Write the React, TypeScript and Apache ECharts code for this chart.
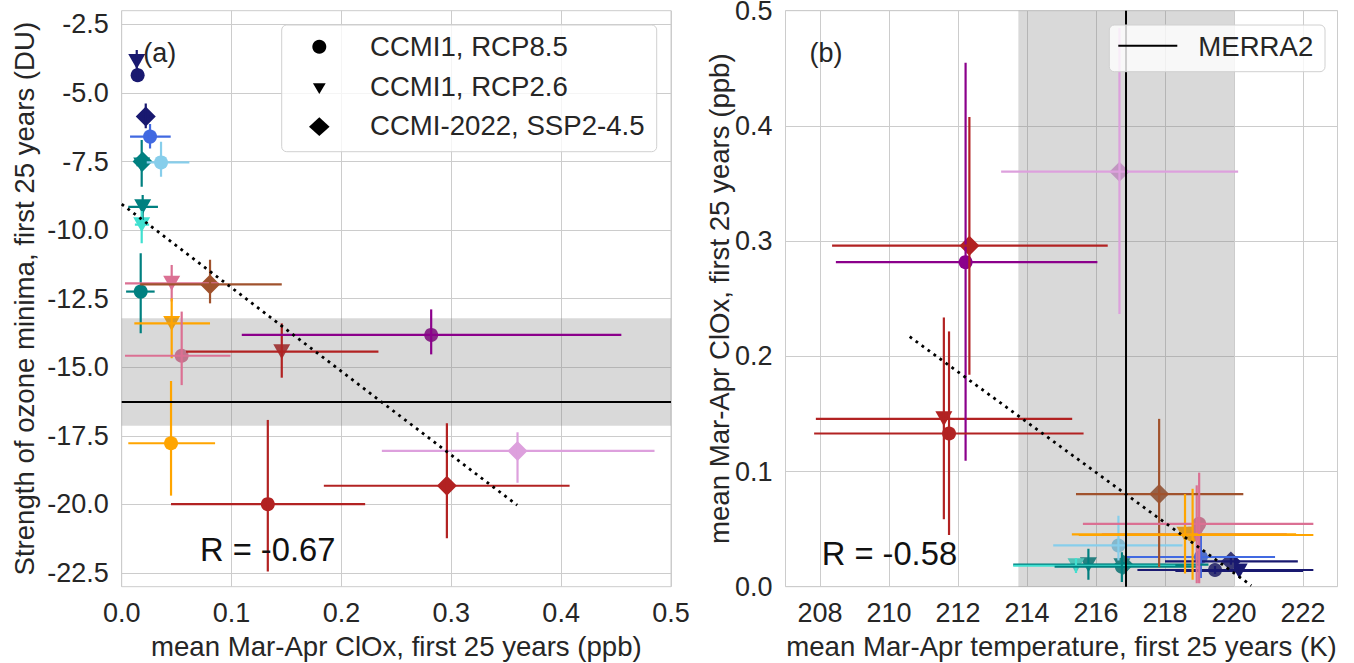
import React, { useEffect, useRef } from 'react';
import * as echarts from 'echarts';

// ---------- data ----------
const colors = ['#191970', '#191970', '#191970', '#4169E1', '#87CEEB', '#008080', '#008080', '#008080', '#40E0D0', '#008080',
  '#DB7093', '#A0522D', '#FFA500', '#DB7093', '#B22222', '#8B008B', '#FFA500', '#B22222', '#DDA0DD', '#B22222'];
const markers = ['circle', 'triangle', 'diamond', 'circle', 'circle', 'triangle', 'diamond', 'triangle', 'triangle', 'circle',
  'triangle', 'diamond', 'triangle', 'circle', 'triangle', 'circle', 'circle', 'circle', 'diamond', 'diamond'];

// mean Mar-Apr ClOx (ppb)
const clox = [0.0145, 0.0137, 0.0219, 0.0258, 0.0358, 0.0182, 0.019, 0.0191, 0.0182, 0.0173,
  0.0455, 0.0804, 0.0455, 0.0546, 0.1457, 0.2817, 0.0449, 0.133, 0.3603, 0.296];
const cloxLo = [0.011, 0.011, 0.019, 0.0076, 0.0228, 0.0135, 0.0165, 0.006, 0.012, 0.004,
  0.003, 0.0168, 0.0115, 0.003, 0.0586, 0.1093, 0.006, 0.0449, 0.2368, 0.184];
const cloxHi = [0.018, 0.017, 0.025, 0.0446, 0.0616, 0.023, 0.0215, 0.033, 0.025, 0.030,
  0.088, 0.1457, 0.0804, 0.099, 0.2337, 0.4548, 0.085, 0.2216, 0.485, 0.4077];

// strength of ozone minima (DU)
const ozone = [-4.35, -3.85, -5.86, -6.59, -7.53, -7.63, -7.5, -9.15, -9.8, -12.24,
  -11.94, -11.98, -13.4, -14.58, -14.43, -13.82, -17.77, -19.99, -18.05, -19.32];
const ozoneLo = [-4.6, -4.2, -6.29, -7.02, -8.05, -8.42, -7.8, -9.63, -10.48, -13.76,
  -12.6, -12.67, -14.67, -15.65, -15.38, -14.53, -19.68, -22.45, -19.21, -21.23];
const ozoneHi = [-4.1, -3.43, -5.38, -6.13, -6.78, -6.71, -7.2, -8.72, -9.3, -10.84,
  -11.27, -11.08, -12.49, -12.97, -13.4, -12.89, -15.5, -16.92, -17.37, -17.04];

// mean Mar-Apr temperature (K)
const temp = [219.45, 220.15, 219.91, 219.04, 216.65, 216.75, 216.8, 215.78, 215.42, 216.75,
  218.92, 217.83, 218.58, 218.99, 211.59, 212.22, 218.8, 211.74, 216.68, 212.33];
const tempLo = [217.2, 218.3, 218.0, 216.89, 214.76, 214.9, 215.6, 213.6, 213.6, 214.8,
  216.17, 215.42, 215.3, 215.62, 207.88, 208.46, 215.5, 207.83, 213.25, 208.35];
const tempHi = [222.3, 222.0, 221.85, 221.19, 218.51, 218.6, 218.0, 219.26, 218.3, 218.9,
  221.53, 220.27, 221.8, 222.3, 215.31, 216.04, 222.3, 215.64, 220.12, 216.34];

// reference (MERRA2) values and ranges
const merraOzone = -16.27;
const merraOzoneRange = [-17.13, -13.21];
const merraTemp = 216.87;
const merraTempRange = [213.75, 220.0];

// regression lines (end points)
const fitA = [[0.0, -9.05], [0.36, -20.03]];
const fitB = [[210.6, 0.217], [220.5, 0.001]];

const yTicksA = [-22.5, -20, -17.5, -15, -12.5, -10, -7.5, -5, -2.5];
const xTicksB = [208, 210, 212, 214, 216, 218, 220, 222];
const legendLabelsA = ['CCMI1, RCP8.5', 'CCMI1, RCP2.6', 'CCMI-2022, SSP2-4.5'];
const legendLabelB = 'MERRA2';
const corrA = 'R = -0.67';
const corrB = 'R = -0.58';

// ---------- styling ----------
const FONT = 'Liberation Sans, Arial, Helvetica, sans-serif';
const TXT = '#262626';
const GRIDC = '#cccccc';
const FS = 27;
const FS_NAME = 27.6;

const symbolOf: Record<string, any> = {
  circle: { symbol: 'circle', symbolSize: 14, symbolRotate: 0 },
  triangle: { symbol: 'triangle', symbolSize: [17, 15], symbolRotate: 180 },
  diamond: { symbol: 'diamond', symbolSize: [20, 20], symbolRotate: 0 },
};

function errRender(params: any, api: any) {
  const x = api.value(0), xl = api.value(1), xh = api.value(2);
  const y = api.value(3), yl = api.value(4), yh = api.value(5);
  const pL = api.coord([xl, y]);
  const pR = api.coord([xh, y]);
  const pB = api.coord([x, yl]);
  const pT = api.coord([x, yh]);
  const c = colors[params.dataIndex];
  return {
    type: 'group',
    children: [
      { type: 'line', shape: { x1: pL[0], y1: pL[1], x2: pR[0], y2: pR[1] }, style: { stroke: c, lineWidth: 2.2 } },
      { type: 'line', shape: { x1: pB[0], y1: pB[1], x2: pT[0], y2: pT[1] }, style: { stroke: c, lineWidth: 2.2 } },
    ],
  };
}

function buildOption() {
  const series: any[] = [];
  const kinds = ['circle', 'triangle', 'diamond'];
  // markers (below shading)
  kinds.forEach((k) => {
    const idx = markers.map((m, i) => (m === k ? i : -1)).filter((i) => i >= 0);
    series.push({
      type: 'scatter', xAxisIndex: 0, yAxisIndex: 0, z: 2, silent: true,
      ...symbolOf[k],
      itemStyle: { opacity: 1 },
      data: idx.map((i) => ({ value: [clox[i], ozone[i]], itemStyle: { color: colors[i], opacity: 1 } })),
    });
    series.push({
      type: 'scatter', xAxisIndex: 1, yAxisIndex: 1, z: 2, silent: true,
      ...symbolOf[k],
      itemStyle: { opacity: 1 },
      data: idx.map((i) => ({ value: [temp[i], clox[i]], itemStyle: { color: colors[i], opacity: 1 } })),
    });
  });
  // shading
  series.push({
    type: 'custom', xAxisIndex: 0, yAxisIndex: 0, z: 3, silent: true,
    dimensions: ['x', 'lo', 'hi'], encode: { x: 0, y: [1, 2] },
    data: [[0, merraOzoneRange[0], merraOzoneRange[1]]],
    renderItem: (params: any, api: any) => {
      const cs = params.coordSys;
      const pTop = api.coord([0, api.value(2)]);
      const pBot = api.coord([0, api.value(1)]);
      return { type: 'rect', shape: { x: cs.x, y: pTop[1], width: cs.width, height: pBot[1] - pTop[1] }, style: { fill: 'rgba(128,128,128,0.3)' } };
    },
  });
  series.push({
    type: 'custom', xAxisIndex: 1, yAxisIndex: 1, z: 3, silent: true,
    dimensions: ['lo', 'hi', 'y'], encode: { x: [0, 1], y: 2 },
    data: [[merraTempRange[0], merraTempRange[1], 0]],
    renderItem: (params: any, api: any) => {
      const cs = params.coordSys;
      const pL = api.coord([api.value(0), 0]);
      const pR = api.coord([api.value(1), 0]);
      return { type: 'rect', shape: { x: pL[0], y: cs.y, width: pR[0] - pL[0], height: cs.height }, style: { fill: 'rgba(128,128,128,0.3)' } };
    },
  });
  // error bars
  series.push({
    type: 'custom', xAxisIndex: 0, yAxisIndex: 0, z: 4, silent: true, clip: true,
    dimensions: ['x', 'xlo', 'xhi', 'y', 'ylo', 'yhi'], encode: { x: [0, 1, 2], y: [3, 4, 5] },
    data: clox.map((_, i) => [clox[i], cloxLo[i], cloxHi[i], ozone[i], ozoneLo[i], ozoneHi[i]]),
    renderItem: errRender,
  });
  series.push({
    type: 'custom', xAxisIndex: 1, yAxisIndex: 1, z: 4, silent: true, clip: true,
    dimensions: ['x', 'xlo', 'xhi', 'y', 'ylo', 'yhi'], encode: { x: [0, 1, 2], y: [3, 4, 5] },
    data: clox.map((_, i) => [temp[i], tempLo[i], tempHi[i], clox[i], cloxLo[i], cloxHi[i]]),
    renderItem: errRender,
  });
  // MERRA2 lines
  series.push({
    type: 'line', xAxisIndex: 0, yAxisIndex: 0, z: 5, silent: true, symbol: 'none',
    data: [[0, merraOzone], [0.5, merraOzone]], lineStyle: { color: '#000', width: 2 },
  });
  series.push({
    type: 'line', xAxisIndex: 1, yAxisIndex: 1, z: 5, silent: true, symbol: 'none',
    data: [[merraTemp, 0], [merraTemp, 0.5]], lineStyle: { color: '#000', width: 2 },
  });
  // regression lines
  series.push({
    type: 'line', xAxisIndex: 0, yAxisIndex: 0, z: 6, silent: true, symbol: 'none', clip: true,
    data: fitA, lineStyle: { color: '#000', width: 2.8, type: [2.8, 4.6] },
  });
  series.push({
    type: 'line', xAxisIndex: 1, yAxisIndex: 1, z: 6, silent: true, symbol: 'none', clip: true,
    data: fitB, lineStyle: { color: '#000', width: 2.8, type: [2.8, 4.6] },
  });

  const xLabelBase = { color: TXT, fontSize: FS, fontFamily: FONT, margin: 16.5, lineHeight: 20 };
  const yLabelBase = { color: TXT, fontSize: FS, fontFamily: FONT, margin: 13, lineHeight: 16 };
  const nameStyle = { color: TXT, fontSize: FS_NAME, fontFamily: FONT, lineHeight: 24 };
  const split = { show: true, lineStyle: { color: GRIDC, width: 1 } };

  const legendX = 319.3;
  const graphic: any[] = [
    // legend (a)
    { type: 'rect', z: 100, shape: { x: 281.7, y: 25, width: 375, height: 126.7, r: 5 }, style: { fill: 'rgba(255,255,255,0.8)', stroke: '#d0d0d0', lineWidth: 1 } },
    { type: 'circle', z: 101, shape: { cx: legendX, cy: 46.7, r: 7 }, style: { fill: '#000' } },
    { type: 'polygon', z: 101, shape: { points: [[legendX - 6.4, 83.3], [legendX + 6.4, 83.3], [legendX, 94]] }, style: { fill: '#000' } },
    { type: 'polygon', z: 101, shape: { points: [[legendX, 117.3], [legendX + 10.3, 126.7], [legendX, 136], [legendX - 10.3, 126.7]] }, style: { fill: '#000' } },
    ...legendLabelsA.map((t, i) => ({
      type: 'text', z: 101, x: 370, y: [46.7, 86.7, 125.5][i],
      style: { text: t, fill: TXT, fontSize: FS_NAME, fontFamily: FONT, align: 'left', verticalAlign: 'middle' },
    })),
    // legend (b)
    { type: 'rect', z: 100, shape: { x: 1109.3, y: 25, width: 215.7, height: 46.7, r: 5 }, style: { fill: 'rgba(255,255,255,0.8)', stroke: '#d0d0d0', lineWidth: 1 } },
    { type: 'line', z: 101, shape: { x1: 1118.3, y1: 45.7, x2: 1177.3, y2: 45.7 }, style: { stroke: '#000', lineWidth: 2 } },
    { type: 'text', z: 101, x: 1198.3, y: 46, style: { text: legendLabelB, fill: TXT, fontSize: FS_NAME, fontFamily: FONT, align: 'left', verticalAlign: 'middle' } },
    // panel labels
    { type: 'text', z: 101, x: 143.3, y: 53, style: { text: '(a)', fill: TXT, fontSize: FS, fontFamily: FONT, align: 'left', verticalAlign: 'middle' } },
    { type: 'text', z: 101, x: 809.5, y: 53, style: { text: '(b)', fill: TXT, fontSize: FS, fontFamily: FONT, align: 'left', verticalAlign: 'middle' } },
    // correlation
    { type: 'text', z: 101, x: 200, y: 549, style: { text: corrA, fill: '#111', fontSize: 32.7, fontFamily: FONT, align: 'left', verticalAlign: 'middle' } },
    { type: 'text', z: 101, x: 821.7, y: 553, style: { text: corrB, fill: '#111', fontSize: 32.7, fontFamily: FONT, align: 'left', verticalAlign: 'middle' } },
  ];

  return {
    animation: false,
    backgroundColor: '#ffffff',
    textStyle: { fontFamily: FONT },
    grid: [
      { left: 121.7, top: 10.7, width: 549.3, height: 576, show: true, borderColor: GRIDC, borderWidth: 1, backgroundColor: '#fff', containLabel: false, outerBoundsMode: 'none' },
      { left: 785.5, top: 10.7, width: 552, height: 576, show: true, borderColor: GRIDC, borderWidth: 1, backgroundColor: '#fff', containLabel: false, outerBoundsMode: 'none' },
    ],
    xAxis: [
      {
        type: 'value', gridIndex: 0, min: 0, max: 0.5, interval: 0.1,
        name: 'mean Mar-Apr ClOx, first 25 years (ppb)', nameLocation: 'middle', nameGap: 48, nameTextStyle: nameStyle, nameMoveOverlap: false,
        axisLine: { show: false }, axisTick: { show: false }, splitLine: split,
        axisLabel: { ...xLabelBase, interval: 0, formatter: (v: number) => v.toFixed(1) },
      },
      {
        type: 'value', gridIndex: 1, min: 207, max: 223,
        name: 'mean Mar-Apr temperature, first 25 years (K)', nameLocation: 'middle', nameGap: 48, nameTextStyle: nameStyle, nameMoveOverlap: false,
        axisLine: { show: false }, axisTick: { show: false, customValues: xTicksB }, splitLine: split,
        axisLabel: { ...xLabelBase, customValues: xTicksB, formatter: (v: number) => String(Math.round(v)) },
      },
    ],
    yAxis: [
      {
        type: 'value', gridIndex: 0, min: -23, max: -2,
        name: 'Strength of ozone minima, first 25 years (DU)', nameLocation: 'middle', nameGap: 84, nameTextStyle: { ...nameStyle, lineHeight: 27 }, nameMoveOverlap: false,
        axisLine: { show: false }, axisTick: { show: false, customValues: yTicksA }, splitLine: split,
        axisLabel: { ...yLabelBase, customValues: yTicksA, formatter: (v: number) => v.toFixed(1) },
      },
      {
        type: 'value', gridIndex: 1, min: 0, max: 0.5, interval: 0.1,
        name: 'mean Mar-Apr ClOx, first 25 years (ppb)', nameLocation: 'middle', nameGap: 53, nameTextStyle: { ...nameStyle, lineHeight: 27 }, nameMoveOverlap: false,
        axisLine: { show: false }, axisTick: { show: false }, splitLine: split,
        axisLabel: { ...yLabelBase, interval: 0, formatter: (v: number) => v.toFixed(1) },
      },
    ],
    series,
    graphic,
  };
}

export default function App() {
  const ref = useRef<HTMLDivElement>(null);
  useEffect(() => {
    if (!ref.current) return;
    const chart = echarts.init(ref.current, undefined, { renderer: 'svg' });
    chart.setOption(buildOption() as any);
    return () => chart.dispose();
  }, []);
  return <div ref={ref} style={{ position: 'fixed', left: 0, top: 0, width: 1354, height: 663, background: '#fff' }} />;
}
